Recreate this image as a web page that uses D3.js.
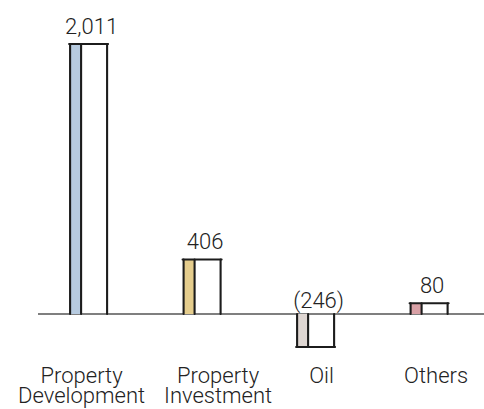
<!DOCTYPE html>
<html><head><meta charset="utf-8">
<script src="https://cdn.jsdelivr.net/npm/d3@7/dist/d3.min.js"></script>
<style>
html,body{margin:0;padding:0;background:#fff;}
svg{display:block;}
text{font-family:Roboto,"Liberation Sans",sans-serif;font-weight:300;fill:#222;}
</style></head>
<body>
<script>
const categories = [["Property","Development"],["Property","Investment"],["Oil"],["Others"]];
const values = [2011, 406, -246, 80];
const valueLabels = ["2,011","406","(246)","80"];
const colors = ["#b7cbe0","#e5cd8d","#ded6d2","#d9a1a6"];
// horizontal nudges of the category captions relative to their bars (layout)
const captionShift = [-7, 16, 6, 7];

const W = 484, H = 409;
const svg = d3.select("body").append("svg").attr("width", W).attr("height", H);

const x = d3.scaleBand().domain(d3.range(categories.length))
  .range([31.5, 486.2]).paddingInner(0.674).paddingOuter(0.34);
const y = d3.scaleLinear().domain([0, 2011]).range([314, 44]);

const strip = 11;
const ink = "#1c1c1c";

svg.append("line").attr("x1", 38).attr("x2", W).attr("y1", y(0)).attr("y2", y(0))
  .attr("stroke", "#555").attr("stroke-width", 1.6);

const g = svg.selectAll("g.bar").data(values).join("g").attr("class","bar");

g.append("rect")
  .attr("x", (d,i) => x(i))
  .attr("width", strip)
  .attr("y", d => y(Math.max(0,d)))
  .attr("height", d => Math.abs(y(d) - y(0)))
  .attr("fill", (d,i) => colors[i]);

[0, strip, null].forEach(off => {
  g.append("line")
    .attr("x1", (d,i) => x(i) + (off === null ? x.bandwidth() : off))
    .attr("x2", (d,i) => x(i) + (off === null ? x.bandwidth() : off))
    .attr("y1", d => y(d))
    .attr("y2", y(0))
    .attr("stroke", ink).attr("stroke-width", 2.1).attr("stroke-linecap","round");
});
g.append("line")
  .attr("x1", (d,i) => x(i) - 1)
  .attr("x2", (d,i) => x(i) + x.bandwidth() + 1)
  .attr("y1", d => y(d)).attr("y2", d => y(d))
  .attr("stroke", ink).attr("stroke-width", 2.1).attr("stroke-linecap","round");

g.append("text")
  .attr("x", (d,i) => x(i) + x.bandwidth()/2 + 3)
  .attr("y", d => d >= 0 ? y(d) - 10 : y(0) - 6)
  .attr("text-anchor","middle")
  .attr("font-size", 22)
  .text((d,i) => valueLabels[i]);

categories.forEach((lines, i) => {
  const cx = x(i) + x.bandwidth()/2 + captionShift[i];
  const t = svg.append("text")
    .attr("x", cx)
    .attr("y", 383)
    .attr("text-anchor","middle")
    .attr("font-size", 22);
  lines.forEach((s, j) => {
    t.append("tspan").attr("x", cx).attr("dy", j === 0 ? 0 : 20).text(s);
  });
});
</script>
</body></html>
